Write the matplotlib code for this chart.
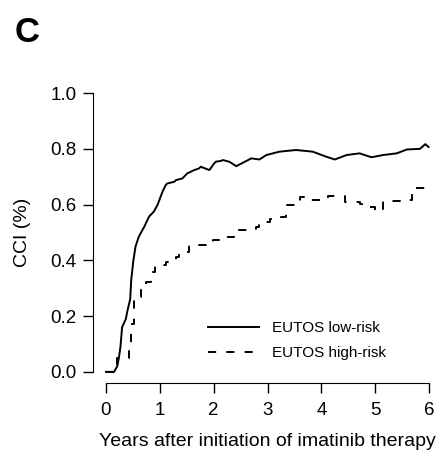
import matplotlib
matplotlib.use("Agg")
import matplotlib.pyplot as plt

plt.rcParams['font.family'] = ['Liberation Sans', 'DejaVu Sans']

# EUTOS low-risk (solid)
low_x = [0.0, 0.15, 0.21, 0.24, 0.27, 0.30, 0.37, 0.40, 0.45, 0.47, 0.51, 0.55,
         0.61, 0.71, 0.80, 0.89, 0.96, 1.05, 1.11, 1.14, 1.27, 1.30, 1.42, 1.48,
         1.51, 1.64, 1.73, 1.76, 1.92, 2.01, 2.04, 2.14, 2.17, 2.29, 2.42, 2.54,
         2.70, 2.85, 2.98, 3.22, 3.53, 3.84, 4.09, 4.25, 4.47, 4.71, 4.93, 5.15,
         5.40, 5.59, 5.83, 5.93, 5.99]
low_y = [0.0, 0.0, 0.02, 0.05, 0.09, 0.16, 0.19, 0.22, 0.26, 0.33, 0.40, 0.45,
         0.485, 0.52, 0.557, 0.575, 0.60, 0.646, 0.67, 0.676, 0.682, 0.688, 0.694, 0.706,
         0.712, 0.724, 0.73, 0.736, 0.724, 0.748, 0.754, 0.757, 0.76, 0.754, 0.738, 0.75,
         0.766, 0.762, 0.778, 0.79, 0.796, 0.79, 0.772, 0.762, 0.778, 0.784, 0.77, 0.778,
         0.784, 0.798, 0.80, 0.817, 0.807]

# EUTOS high-risk (dashed, step)
high_x = [0.0, 0.21, 0.43, 0.47, 0.52, 0.55, 0.645, 0.74, 0.83, 0.92, 1.11, 1.30,
          1.36, 1.55, 1.86, 1.98, 2.17, 2.38, 2.79, 2.85, 3.04, 3.25, 3.34, 3.60,
          3.81, 4.12, 4.43, 4.71, 4.87, 5.0, 5.15, 5.55, 5.68, 6.0]
high_y = [0.0, 0.05, 0.08, 0.17, 0.26, 0.27, 0.306, 0.324, 0.36, 0.383, 0.395, 0.413,
          0.431, 0.455, 0.46, 0.473, 0.485, 0.509, 0.52, 0.539, 0.55, 0.556, 0.598, 0.628,
          0.616, 0.63, 0.61, 0.604, 0.593, 0.578, 0.614, 0.616, 0.658, 0.658]

xticks = [0, 1, 2, 3, 4, 5, 6]
yticks = [0.0, 0.2, 0.4, 0.6, 0.8, 1.0]

fig = plt.figure(figsize=(4.43, 4.59), dpi=100)
ax = fig.add_axes([93 / 443, (459 - 383) / 459, (442 - 93) / 443, (383 - 82) / 459])

ax.plot(low_x, low_y, color='black', lw=1.4, label='EUTOS low-risk')
ax.plot(high_x, high_y, color='black', lw=1.4, drawstyle='steps-post',
        dashes=(4.2, 5.2), label='EUTOS high-risk')

ax.set_xlim(-0.24, 6.24)
ax.set_ylim(-0.04, 1.04)
ax.set_xticks(xticks)
ax.set_yticks(yticks)
ax.set_yticklabels(['%.1f' % v for v in yticks])
for s in ['top', 'right']:
    ax.spines[s].set_visible(False)
ax.spines['left'].set_bounds(0, 1)
ax.spines['bottom'].set_bounds(0, 6)
ax.tick_params(direction='out', length=7, width=1, labelsize=13.5)
ax.tick_params(axis='y', pad=5)
ax.tick_params(axis='x', pad=7)
ax.set_xlabel('Years after initiation of imatinib therapy', fontsize=14, labelpad=10)
ax.set_ylabel('CCI (%)', fontsize=14, labelpad=14)

ax.legend(loc='upper left', bbox_to_anchor=(0.33, 0.205), frameon=False,
          borderpad=0, borderaxespad=0,
          fontsize=11, handlelength=3.3, handletextpad=0.85, labelspacing=0.7)

fig.text(15 / 443, 1 - 42 / 459, 'C', fontsize=25, fontweight='bold')

fig.savefig('out.png', dpi=100)
